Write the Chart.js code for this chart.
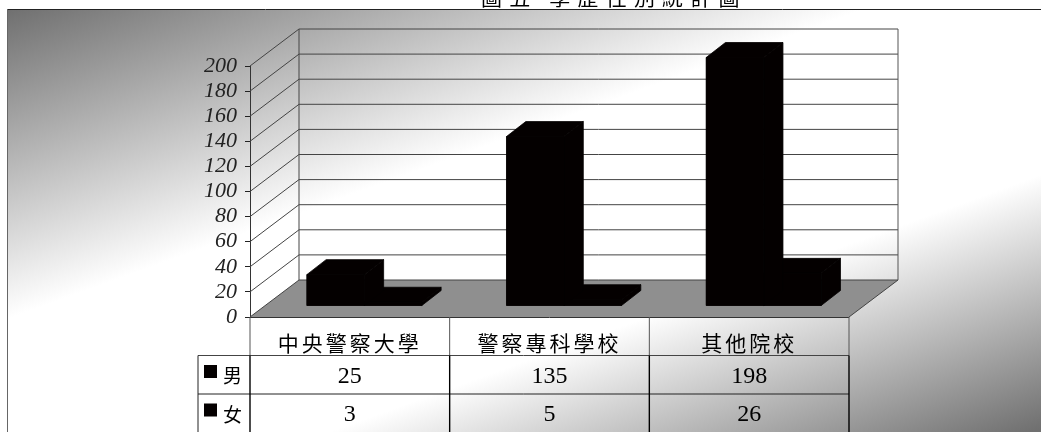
<!DOCTYPE html>
<html><head><meta charset="utf-8">
<style>html,body{margin:0;padding:0;background:#fff;overflow:hidden}#w{width:1041px;height:432px;position:relative}canvas{display:block}</style>
<script src="https://cdn.jsdelivr.net/npm/chart.js@4"></script>
</head><body><div id="w"><canvas id="c" width="1041" height="432"></canvas></div>
<script>
const categories=['中央警察大學','警察專科學校','其他院校'];
const male=[25,135,198];
const female=[3,5,26];
const seriesNames=['男','女'];
const yTicks=[0,20,40,60,80,100,120,140,160,180,200];
const titleText='圖五 學歷性別統計圖';

const CJK='"Noto Sans CJK TC"', SERIF='"Liberation Serif"';
const WALL={dx:49,dy:37}, BAR_OFF={dx:14.5,dy:11}, BAR_D={dx:19.3,dy:15};
const BAR_COLOR='#040000';
const rows=[{n:seriesNames[0],v:male},{n:seriesNames[1],v:female}];

function poly(ctx,pts,fill,seal){ctx.beginPath();pts.forEach((p,i)=>i?ctx.lineTo(p[0],p[1]):ctx.moveTo(p[0],p[1]));ctx.closePath();ctx.fillStyle=fill;ctx.fill();if(seal){ctx.strokeStyle=fill;ctx.lineWidth=.8;ctx.stroke();}}
function line(ctx,x0,y0,x1,y1,c,w){ctx.beginPath();ctx.moveTo(x0,y0);ctx.lineTo(x1,y1);ctx.strokeStyle=c;ctx.lineWidth=w;ctx.stroke();}

const scene={
 id:'scene',
 afterUpdate(chart){
  const x=chart.scales.x,ctx=chart.ctx,orig=Object.getPrototypeOf(x).drawLabels;
  x.drawLabels=function(a){ctx.save();ctx.letterSpacing='3px';orig.call(this,a);ctx.restore();};
 },
 beforeDraw(chart){
  const ctx=chart.ctx;ctx.save();
  ctx.fillStyle='#fff';ctx.fillRect(0,0,1041,432);
  const g=ctx.createLinearGradient(8,10,261,710);
  g.addColorStop(0,'#707070');g.addColorStop(.39,'#ffffff');g.addColorStop(.68,'#ffffff');g.addColorStop(1,'#707070');
  ctx.fillStyle=g;ctx.fillRect(8,10,1033,422);
  line(ctx,7,9.5,1041,9.5,'#222',1);
  line(ctx,7.5,9,7.5,432,'#666',1);
  ctx.font='21px '+CJK;ctx.letterSpacing='7.2px';ctx.fillStyle='#000';ctx.textAlign='left';ctx.textBaseline='alphabetic';
  ctx.fillText(titleText,481,5);
  ctx.restore();
 },
 beforeDatasetsDraw(chart){
  const ctx=chart.ctx,{x,y}=chart.scales,a=chart.chartArea;
  ctx.save();
  const L=a.left,R=a.right,B=y.getPixelForValue(0),dx=WALL.dx,dy=WALL.dy;
  poly(ctx,[[L,B],[L+dx,B-dy],[R+dx,B-dy],[R,B]],'#8f8f8f');
  yTicks.forEach(v=>{const p=y.getPixelForValue(v);
    line(ctx,L,p,L+dx,p-dy,'#444',1);
    line(ctx,L+dx,p-dy,R+dx,p-dy,'#444',1);});
  const T=y.getPixelForValue(200);
  line(ctx,L+dx,T-dy,L+dx,B-dy,'#444',1);
  line(ctx,R+dx,T-dy,R+dx,B-dy,'#555',1);
  line(ctx,R,B,R+dx,B-dy,'#444',1);
  const r0=B,r1=355.5,r2=394,r3=432,kx=198;
  line(ctx,L,r0+.5,R,r0+.5,'#333',1);
  line(ctx,kx,r1,R,r1,'#444',1);
  line(ctx,kx,r2,R,r2,'#222',1);
  line(ctx,kx,r1,kx,r3,'#222',1);
  const bounds=[L,(x.getPixelForValue(0)+x.getPixelForValue(1))/2,(x.getPixelForValue(1)+x.getPixelForValue(2))/2,R];
  bounds.forEach(b=>{line(ctx,b,r0,b,r1,'#555',1);line(ctx,b,r1,b,r3,'#000',1.4);});
  ctx.restore();
 },
 beforeDatasetDraw(chart,args){
  const ctx=chart.ctx;
  ctx.save();
  ctx.translate(BAR_OFF.dx,-BAR_OFF.dy);
  args.meta.data.forEach(b=>{
    const l=b.x-b.width/2,r=b.x+b.width/2,d=BAR_D.dx,e=BAR_D.dy;
    poly(ctx,[[l,b.y],[l+d,b.y-e],[r+d,b.y-e],[r,b.y]],BAR_COLOR,true);
    poly(ctx,[[r,b.y],[r+d,b.y-e],[r+d,b.base-e],[r,b.base]],BAR_COLOR,true);
    poly(ctx,[[l,b.y],[r,b.y],[r,b.base],[l,b.base]],BAR_COLOR,true);
  });
 },
 afterDatasetDraw(chart){chart.ctx.restore();},
 afterDatasetsDraw(chart){
  const ctx=chart.ctx,x=chart.scales.x;
  ctx.save();ctx.textBaseline='middle';
  rows.forEach((row,i)=>{
    const cy=375+i*38.5;
    ctx.fillStyle=BAR_COLOR;ctx.fillRect(204,cy-10,13,13);
    ctx.fillStyle='#000';ctx.textAlign='left';ctx.font='19px '+CJK;ctx.fillText(row.n,223,cy+1);
    ctx.textAlign='center';ctx.font='24px '+SERIF;
    row.v.forEach((v,k)=>ctx.fillText(String(v),x.getPixelForValue(k),cy+1.5));
  });
  ctx.restore();
 }
};

new Chart(document.getElementById('c'),{
 type:'bar',
 data:{labels:categories,datasets:[
  {label:seriesNames[0],data:male,backgroundColor:BAR_COLOR},
  {label:seriesNames[1],data:female,backgroundColor:BAR_COLOR}]},
 options:{
  responsive:false,animation:false,devicePixelRatio:1,
  layout:{padding:{left:0,right:192,top:66,bottom:77}},
  plugins:{legend:{display:false},title:{display:false},tooltip:{enabled:false}},
  datasets:{bar:{categoryPercentage:.576,barPercentage:1}},
  scales:{
   x:{grid:{display:false},border:{display:false},
      ticks:{padding:5,color:'#000',maxRotation:0,font:{family:CJK,size:21}},
      afterFit(s){s.height=38;s.paddingLeft=0;s.paddingRight=0;}},
   y:{min:0,max:200,
      grid:{drawOnChartArea:false,drawTicks:true,tickLength:5,color:'#222'},
      border:{color:'#333'},
      afterBuildTicks(s){s.ticks=yTicks.map(v=>({value:v}));},
      ticks:{padding:8,color:'#222',autoSkip:false,font:{family:SERIF,size:22,style:'italic'}},
      afterFit(s){s.width=250;s.paddingTop=0;s.paddingBottom=0;}}
  }
 },
 plugins:[scene]
});
</script></body></html>
